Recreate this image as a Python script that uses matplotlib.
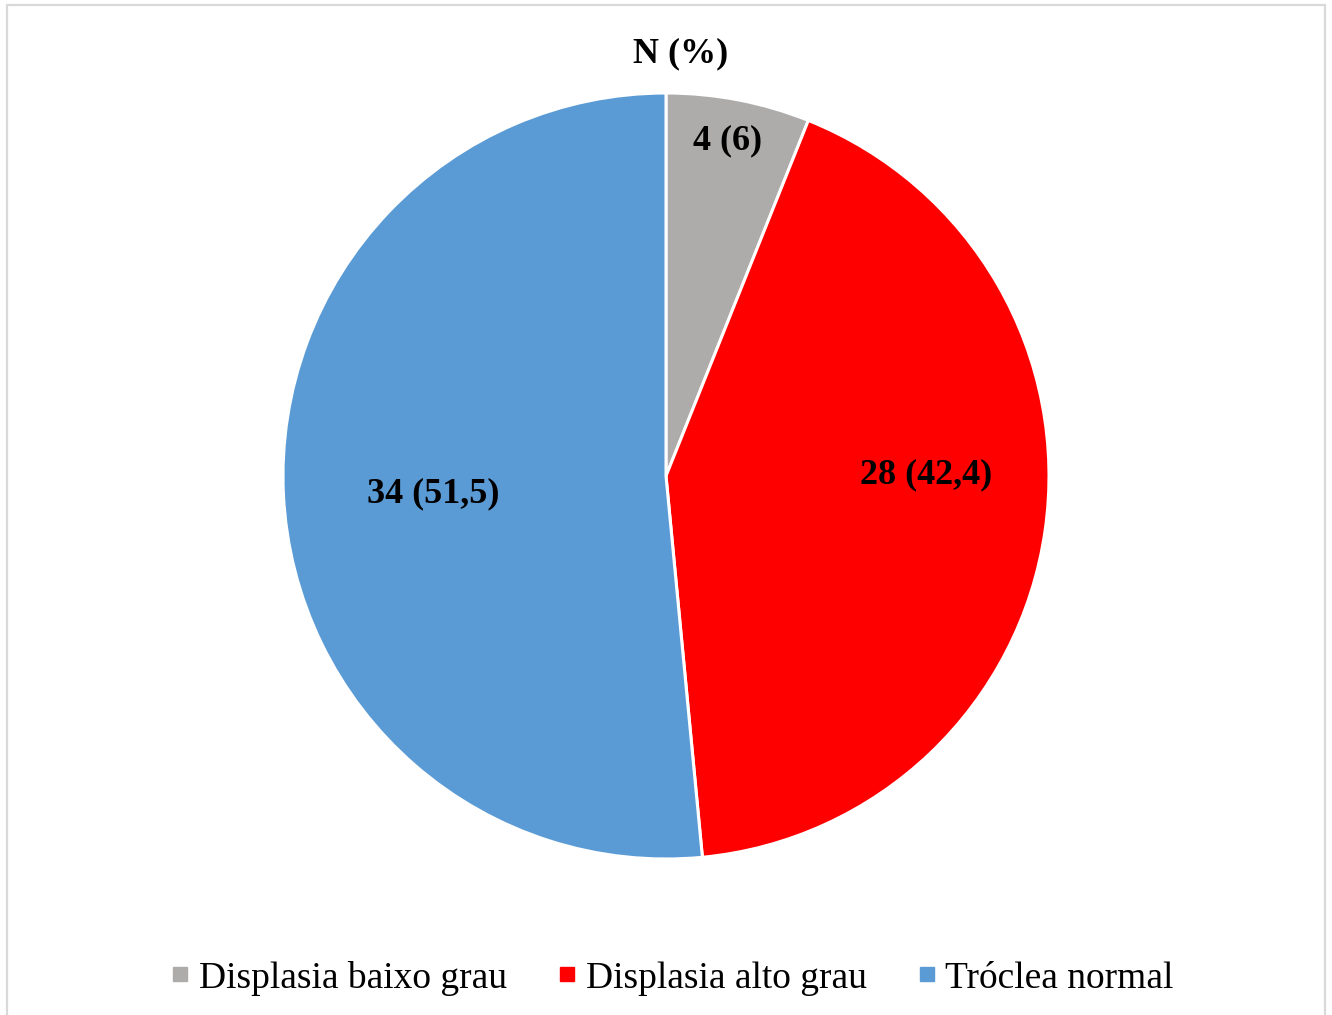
import matplotlib.pyplot as plt
from matplotlib.lines import Line2D
from matplotlib.patches import Rectangle
import numpy as np

plt.rcParams['font.family'] = ['Liberation Serif', 'DejaVu Serif']

categorias = ['Displasia baixo grau', 'Displasia alto grau', 'Tróclea normal']
n = [4, 28, 34]
pct_txt = ['4 (6)', '28 (42,4)', '34 (51,5)']
cores = ['#AEABAB', '#FF0000', '#5B9BD5']

fig = plt.figure(figsize=(13.32, 10.15), dpi=100)

# light grey chart border (bottom edge is cut off in the original)
fig.patches.append(Rectangle((7/1332, -0.02), 1318/1332, 1.02 - 5/1015,
                             transform=fig.transFigure, fill=False,
                             edgecolor='#D9D9D9', linewidth=1.6))

ax = fig.add_axes([283/1332, 156/1015, 766/1332, 766/1015])
wedges, _ = ax.pie(n, colors=cores, startangle=90, counterclock=False,
                   radius=1, wedgeprops=dict(edgecolor='white', linewidth=2.2))
ax.set_xlim(-1, 1)
ax.set_ylim(-1, 1)
ax.set_aspect('equal')
ax.axis('off')

# label placement (radius from centre, angle in degrees)
pos = [(0.89, 79.6), (0.68, 0.2), (0.61, 184.4)]
for txt, (r, a) in zip(pct_txt, pos):
    ax.text(r*np.cos(np.radians(a)), r*np.sin(np.radians(a)), txt,
            ha='center', va='center', fontsize=26, fontweight='bold')

fig.text(681/1332, 1 - 54/1015, 'N (%)', ha='center', va='center',
         fontsize=26, fontweight='bold')

handles = [Line2D([], [], marker='s', linestyle='none', markersize=9.5,
                  markerfacecolor=c, markeredgecolor=c) for c in cores]
fig.legend(handles, categorias, loc='center', bbox_to_anchor=(673/1332, 1 - 978/1015),
           ncol=3, frameon=False, fontsize=27, handlelength=0.4,
           handletextpad=0.3, columnspacing=1.4, borderpad=0)

fig.savefig('out.png', dpi=100)
